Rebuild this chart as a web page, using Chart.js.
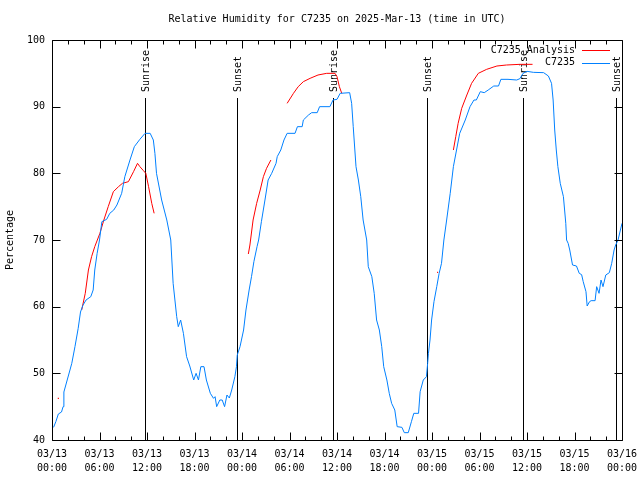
<!DOCTYPE html>
<html>
<head>
<meta charset="utf-8">
<script src="https://cdn.jsdelivr.net/npm/chart.js@4"></script>
<style>
  html, body { margin: 0; padding: 0; background: #fff; }
  #wrap { width: 640px; height: 480px; }
</style>
</head>
<body>
<div id="wrap"><canvas id="rh"></canvas></div>
<script>
// hours since 03/13 00:00 UTC
const obsHours = [0.2, 0.5, 0.8, 1.2, 1.4, 1.5, 1.85, 2.2, 2.5, 2.9, 3.3, 3.6, 3.9, 4.3, 4.9, 5.2, 5.4, 5.7, 6.0, 6.3,
  6.9, 7.3, 7.8, 8.2, 8.8, 9.2, 9.85, 10.4, 11.1, 11.75, 12.4, 12.8, 13.0, 13.2, 13.85, 14.5, 15.0, 15.3, 15.75, 15.95,
  16.25, 16.6, 17.0, 17.4, 17.9, 18.2, 18.5, 18.8, 19.2, 19.5, 20.0, 20.4, 20.6, 20.8, 21.2, 21.5, 21.8, 22.1, 22.4, 22.7,
  23.1, 23.3, 23.4, 23.75, 24.2, 24.5, 24.9, 25.2, 25.5, 25.9, 26.1, 26.45, 26.9, 27.3, 27.75, 28.3, 28.45, 28.9, 29.3, 29.7,
  30.7, 31.0, 31.6, 31.75, 32.4, 32.8, 33.5, 33.8, 35.1, 35.5, 36.0, 36.4, 37.6, 37.85, 38.05, 38.4, 38.7, 39.0, 39.3, 39.75,
  39.95, 40.4, 40.7, 41.0, 41.35, 41.65, 41.9, 42.3, 42.6, 42.9, 43.3, 43.6, 44.2, 44.5, 45.0, 45.4, 45.7, 46.3, 46.5, 46.9,
  47.3, 47.45, 47.55, 47.75, 47.95, 48.25, 48.6, 48.9, 49.2, 49.5, 49.85, 50.3, 50.7, 51.1, 51.5, 52.2, 52.8, 53.3, 53.6, 54.1,
  54.6, 55.1, 55.8, 56.4, 56.7, 57.6, 58.7, 59.1, 59.5, 60.0, 60.8, 62.1, 62.7, 63.1, 63.3, 63.5, 63.7, 63.9, 64.2, 64.6,
  64.9, 65.0, 65.2, 65.4, 65.75, 66.25, 66.6, 66.9, 67.1, 67.45, 67.6, 67.9, 68.1, 68.6, 68.8, 69.1, 69.35, 69.6, 69.95, 70.4,
  70.7, 71.0, 71.2, 71.5, 71.8, 72.0];
const obsRH = [41.9, 42.8, 43.9, 44.2, 45.0, 47.2, 48.7, 50.2, 51.5, 54, 56.7, 59.2, 60.2, 61, 61.5, 62.5, 65.5, 68, 70, 72.75,
  73.1, 74, 74.5, 75.25, 77, 79.5, 82, 84, 85.1, 86, 86, 85, 83, 80, 76, 73, 70, 63.5, 58.5, 57,
  58, 56, 52.5, 51.1, 49, 50, 49, 51, 51, 49, 47, 46.25, 46.5, 45, 46, 46, 45, 46.75, 46.3, 47.5,
  49.5, 51, 52.75, 54, 56.5, 59.5, 62.5, 64.5, 66.75, 69, 70, 72.75, 76, 79, 80, 81.5, 82.5, 83.5, 85, 86,
  86, 87, 87, 88, 88.75, 89.1, 89.1, 90, 90, 91, 91.1, 92, 92.1, 90.5, 87, 81, 79, 76.5, 73, 70,
  66, 64.5, 62, 58, 56.5, 54, 51, 49, 47, 45.5, 44.5, 42, 41.9, 41.1, 41.1, 42.75, 44, 44, 47.25, 49,
  49.5, 51.5, 53, 55, 58, 60.75, 63, 65, 66.5, 70, 73, 77, 81, 83.5, 86, 88, 90, 91, 91, 92.25,
  92.1, 92.5, 93.1, 93.1, 94.1, 94.1, 94, 94.2, 95, 95.3, 95.15, 95.1, 94.6, 93.5, 91, 86.5, 83.5, 81, 78.5, 76.5,
  72.5, 70, 69.5, 68.5, 66.25, 66.1, 65, 64.8, 63.75, 62.25, 60.1, 60.75, 60.9, 60.9, 63, 62, 64, 63, 64.75, 65.1,
  66.5, 68.5, 69.25, 70, 71.5, 72.5];

// analysis runs, null = gap between runs
const anaHours = [0.8, 1.0,
  3.75, 4.2, 4.6, 5.0, 5.4, 6.05, 6.55, 7.1, 7.75, 8.4, 8.9, 9.65, 10.3, 10.8, 11.1, 11.55, 11.85, 12.2, 12.6, 12.9, 13.5,
  24.8, 25.0, 25.4, 25.85, 26.3, 26.7, 27.1, 27.65, 28.5,
  29.7, 30.5, 31.1, 31.75, 32.6, 33.6, 34.7, 35.75, 36.0, 36.3, 36.6, 37.0,
  48.7, 49.0,
  50.7, 51.0, 51.3, 51.75, 52.4, 53.0, 53.85, 54.9, 56.2, 57.4, 59.1, 60.7];
const anaRH = [46.25, null,
  59.5, 62, 65.5, 67.5, 69, 71, 73, 75, 77.25, 78, 78.5, 78.75, 80.25, 81.5, 81, 80.4, 80, 78, 75.5, 74, null,
  67.9, 69.25, 73, 75.5, 77.5, 79.5, 80.75, 82, null,
  90.5, 92, 93, 93.75, 94.25, 94.75, 95, 95, 94.5, 93, 92, null,
  65.15, null,
  83.5, 85.5, 87.5, 89.75, 91.75, 93.5, 95, 95.6, 96.1, 96.25, 96.35, 96.35];

const sunHours = [11.7, 23.4, 35.55, 47.4, 59.5, 71.3];
const sunLabels = ['Sunrise', 'Sunset', 'Sunrise', 'Sunset', 'Sunrise', 'Sunset'];

const tickDates = ['03/13', '03/13', '03/13', '03/13', '03/14', '03/14', '03/14', '03/14', '03/15', '03/15', '03/15', '03/15', '03/16'];
const tickTimes = ['00:00', '06:00', '12:00', '18:00', '00:00', '06:00', '12:00', '18:00', '00:00', '06:00', '12:00', '18:00', '00:00'];

const seriesNames = ['C7235 Analysis', 'C7235'];
const seriesColors = ['#ff0000', '#0080ff'];
const titleText = 'Relative Humidity for C7235 on 2025-Mar-13 (time in UTC)';

const FONT = "'DejaVu Sans Mono', 'Liberation Mono', monospace";
Chart.defaults.font.family = FONT;
Chart.defaults.font.size = 10;
Chart.defaults.color = '#000';

const toPoints = (xs, ys) => xs.map((x, i) => ({ x: x, y: ys[i] }));

// title over the plot, frame, inward ticks, sunrise/sunset lines and the key
const gnuFrame = {
  id: 'gnuFrame',
  beforeDatasetsDraw(chart) {
    const { ctx, chartArea: a, scales: { x } } = chart;
    ctx.save();
    ctx.strokeStyle = '#000';
    ctx.lineWidth = 1;
    ctx.font = '10px ' + FONT;
    ctx.fillStyle = '#000';
    ctx.textAlign = 'center';
    ctx.textBaseline = 'middle';
    ctx.fillText(titleText, (a.left + a.right) / 2, 19);
    sunHours.forEach((h, i) => {
      const px = Math.round(x.getPixelForValue(h)) + 0.5;
      ctx.beginPath();
      ctx.moveTo(px, 98);
      ctx.lineTo(px, a.bottom);
      ctx.stroke();
      ctx.save();
      ctx.translate(px + 1, 92);
      ctx.rotate(-Math.PI / 2);
      ctx.textAlign = 'left';
      ctx.textBaseline = 'middle';
      ctx.fillText(sunLabels[i], 0, 0);
      ctx.restore();
    });
    ctx.restore();
  },
  afterDraw(chart) {
    const { ctx, chartArea: a, scales: { x, y } } = chart;
    ctx.save();
    ctx.strokeStyle = '#000';
    ctx.lineWidth = 1;
    const L = Math.round(a.left) + 0.5, R = Math.round(a.right) + 0.5;
    const T = Math.round(a.top) + 0.5, B = Math.round(a.bottom) + 0.5;
    ctx.beginPath();
    ctx.rect(L, T, R - L, B - T);
    // x ticks: major every 6h, minor every 2h
    for (let h = 0; h <= 72; h += 2) {
      const px = Math.round(x.getPixelForValue(h)) + 0.5;
      const len = h % 6 === 0 ? 8 : 4;
      ctx.moveTo(px, B); ctx.lineTo(px, B - len);
      ctx.moveTo(px, T); ctx.lineTo(px, T + len);
    }
    for (let v = 40; v <= 100; v += 10) {
      const py = Math.round(y.getPixelForValue(v)) + 0.5;
      ctx.moveTo(L, py); ctx.lineTo(L + 8, py);
      ctx.moveTo(R, py); ctx.lineTo(R - 8, py);
    }
    ctx.stroke();

    // key, top right
    ctx.font = '10px ' + FONT;
    ctx.textAlign = 'right';
    ctx.textBaseline = 'middle';
    ctx.fillStyle = '#000';
    seriesNames.forEach((name, i) => {
      const ky = 50 + i * 12.5;
      ctx.fillText(name, 575, ky);
      ctx.strokeStyle = seriesColors[i];
      ctx.beginPath();
      ctx.moveTo(582, Math.round(ky) + 0.5);
      ctx.lineTo(610, Math.round(ky) + 0.5);
      ctx.stroke();
    });
    ctx.restore();
  }
};

const ctx = document.getElementById('rh').getContext('2d');
new Chart(ctx, {
  type: 'line',
  data: {
    datasets: [
      {
        label: seriesNames[1],
        data: toPoints(obsHours, obsRH),
        borderColor: seriesColors[1],
        borderWidth: 1,
        pointRadius: 0,
        tension: 0
      },
      {
        label: seriesNames[0],
        data: toPoints(anaHours, anaRH),
        borderColor: seriesColors[0],
        backgroundColor: seriesColors[0],
        borderWidth: 1,
        spanGaps: false,
        pointStyle: 'rect',
        // lone analysis values show as a dot
        pointRadius: (c) => {
          const d = anaRH, i = c.dataIndex;
          if (d[i] == null) return 0;
          const prev = i > 0 ? d[i - 1] : null, next = i < d.length - 1 ? d[i + 1] : null;
          return (prev == null && next == null) ? 0.8 : 0;
        },
        pointBorderWidth: 0,
        tension: 0
      }
    ]
  },
  options: {
    responsive: true,
    maintainAspectRatio: false,
    animation: false,
    layout: { padding: { left: 0, right: 18, top: 40, bottom: 0 } },
    plugins: {
      legend: { display: false },
      tooltip: { enabled: false },
      title: { display: false }
    },
    scales: {
      x: {
        type: 'linear',
        min: 0,
        max: 72,
        grid: { display: false, drawTicks: false },
        border: { display: false },
        afterFit: (s) => { s.height = 40; s.paddingLeft = 0; s.paddingRight = 0; },
        ticks: {
          stepSize: 6,
          autoSkip: false,
          maxRotation: 0,
          padding: 7,
          font: { size: 10, lineHeight: 1.45 },
          callback: (v) => {
            const i = Math.round(v / 6);
            return [tickDates[i], tickTimes[i]];
          }
        }
      },
      y: {
        min: 40,
        max: 100,
        grid: { display: false, drawTicks: false },
        border: { display: false },
        afterFit: (s) => { s.width = 52; s.paddingTop = 0; s.paddingBottom = 0; },
        title: {
          display: true,
          text: 'Percentage',
          font: { size: 10 },
          padding: { top: 4, bottom: 0 }
        },
        ticks: { stepSize: 10, padding: 7 }
      }
    }
  },
  plugins: [gnuFrame]
});
</script>
</body>
</html>
